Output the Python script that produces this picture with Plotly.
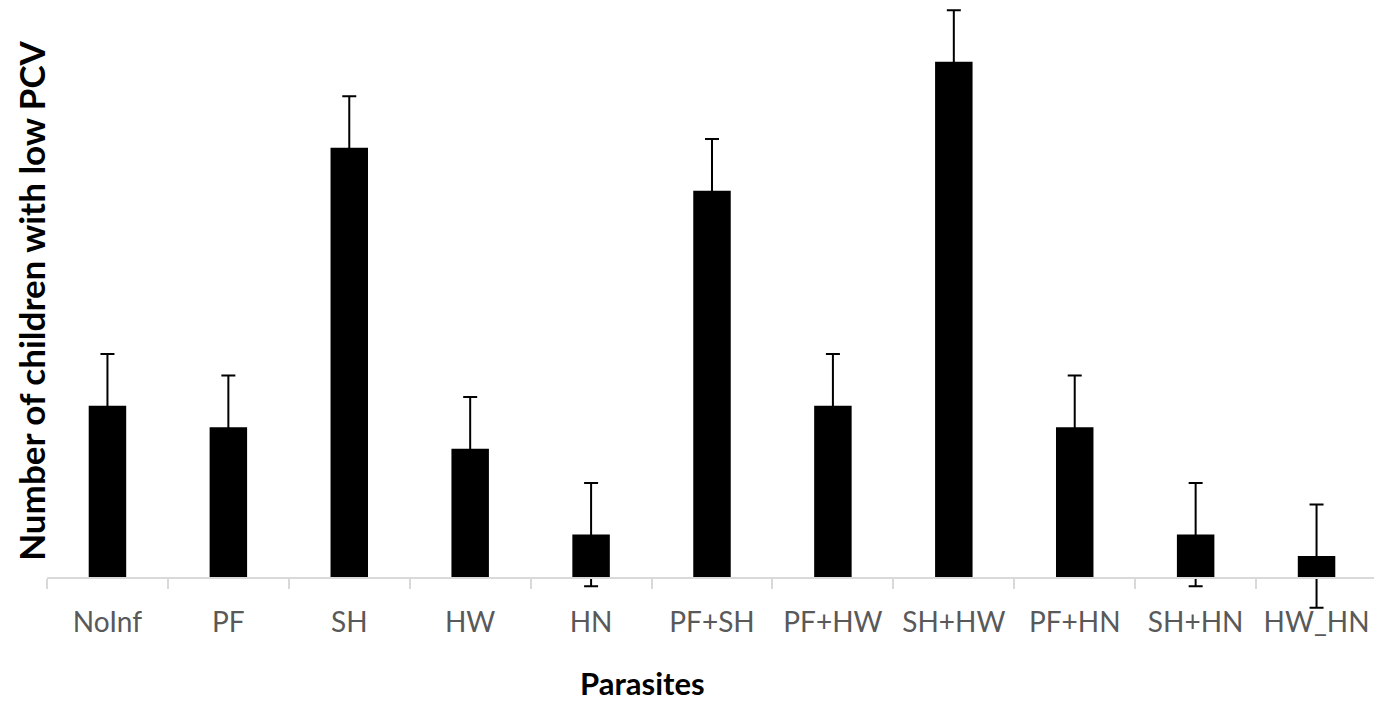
import plotly.graph_objects as go

categories = ["NoInf", "PF", "SH", "HW", "HN", "PF+SH", "PF+HW", "SH+HW", "PF+HN", "SH+HN", "HW_HN"]
counts = [8, 7, 20, 6, 2, 18, 8, 24, 7, 2, 1]
errors = [2.4, 2.4, 2.4, 2.4, 2.4, 2.4, 2.4, 2.4, 2.4, 2.4, 2.4]

# page has an 8px body margin; figure sized to fit the 1382x704 window
FW, FH = 1374, 696
ymin, ymax = -1.6, 26.5
plot_h = 604.4
left, plot_w = 39, 1330

fig = go.Figure(go.Bar(
    x=categories, y=counts,
    marker=dict(color="black", line=dict(width=0)),
    error_y=dict(type="data", array=errors, visible=True, color="black", thickness=2, width=7),
    width=0.31,
))

fig.update_layout(
    width=FW, height=FH,
    margin=dict(l=left, r=FW - left - plot_w, t=0, b=FH - plot_h, autoexpand=False),
    plot_bgcolor="white", paper_bgcolor="white",
    showlegend=False,
    font=dict(family="Lato", color="#595959"),
    xaxis=dict(
        anchor="free", position=(0 - ymin) / (ymax - ymin),
        showline=True, linecolor="#d9d9d9", linewidth=2,
        ticks="outside", tickson="boundaries", ticklen=10, tickcolor="#d9d9d9", tickwidth=2,
        tickfont=dict(size=28, color="#595959", family="Lato"),
        ticklabelstandoff=20,
        showgrid=False, zeroline=False, automargin=False,
    ),
    yaxis=dict(range=[ymin, ymax], visible=False, showgrid=False, zeroline=False, automargin=False),
)
fig.add_annotation(text="<b>Parasites</b>", x=(634 - left) / plot_w, y=(plot_h - 695) / plot_h,
                   xref="paper", yref="paper", showarrow=False, borderpad=0,
                   font=dict(size=31, color="black", family="Lato"),
                   xanchor="center", yanchor="bottom")
fig.add_annotation(text="<b>Number of children with low PCV</b>", x=(1 - left) / plot_w, y=(plot_h - 293) / plot_h,
                   xref="paper", yref="paper", showarrow=False, textangle=-90, borderpad=0,
                   font=dict(size=35, color="black", family="Lato"),
                   xanchor="left", yanchor="middle")

fig.write_html("out.html")
